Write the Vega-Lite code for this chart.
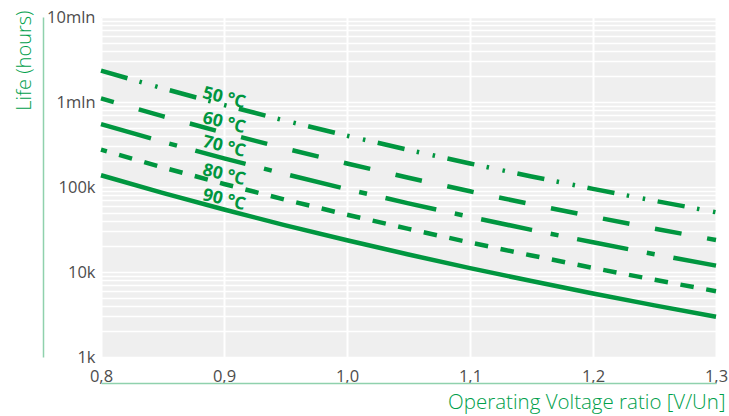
{
  "$schema": "https://vega.github.io/schema/vega-lite/v6.json",
  "width": 615,
  "height": 340,
  "autosize": {"type": "none"},
  "padding": {"left": 101, "top": 17, "right": 13, "bottom": 59},
  "background": "white",
  "config": {"view": {"fill": "#efefef", "stroke": null}, "font": "Open Sans"},
  "datasets": {
    "curves": [
      {"ratio": 0.8, "life": 2339000, "temp": "50"},
      {"ratio": 0.85, "life": 1448000, "temp": "50"},
      {"ratio": 0.9, "life": 923100, "temp": "50"},
      {"ratio": 0.95, "life": 601800, "temp": "50"},
      {"ratio": 1.0, "life": 401200, "temp": "50"},
      {"ratio": 1.05, "life": 273000, "temp": "50"},
      {"ratio": 1.1, "life": 189000, "temp": "50"},
      {"ratio": 1.15, "life": 133000, "temp": "50"},
      {"ratio": 1.2, "life": 95030, "temp": "50"},
      {"ratio": 1.25, "life": 68850, "temp": "50"},
      {"ratio": 1.3, "life": 50490, "temp": "50"},
      {"ratio": 0.8, "life": 1100800, "temp": "60"},
      {"ratio": 0.85, "life": 681600, "temp": "60"},
      {"ratio": 0.9, "life": 434400, "temp": "60"},
      {"ratio": 0.95, "life": 283200, "temp": "60"},
      {"ratio": 1.0, "life": 188800, "temp": "60"},
      {"ratio": 1.05, "life": 128500, "temp": "60"},
      {"ratio": 1.1, "life": 88960, "temp": "60"},
      {"ratio": 1.15, "life": 62600, "temp": "60"},
      {"ratio": 1.2, "life": 44720, "temp": "60"},
      {"ratio": 1.25, "life": 32400, "temp": "60"},
      {"ratio": 1.3, "life": 23760, "temp": "60"},
      {"ratio": 0.8, "life": 550400, "temp": "70"},
      {"ratio": 0.85, "life": 340800, "temp": "70"},
      {"ratio": 0.9, "life": 217100, "temp": "70"},
      {"ratio": 0.95, "life": 141600, "temp": "70"},
      {"ratio": 1.0, "life": 94400, "temp": "70"},
      {"ratio": 1.05, "life": 64240, "temp": "70"},
      {"ratio": 1.1, "life": 44480, "temp": "70"},
      {"ratio": 1.15, "life": 31300, "temp": "70"},
      {"ratio": 1.2, "life": 22360, "temp": "70"},
      {"ratio": 1.25, "life": 16200, "temp": "70"},
      {"ratio": 1.3, "life": 11880, "temp": "70"},
      {"ratio": 0.8, "life": 275200, "temp": "80"},
      {"ratio": 0.85, "life": 170400, "temp": "80"},
      {"ratio": 0.9, "life": 108600, "temp": "80"},
      {"ratio": 0.95, "life": 70800, "temp": "80"},
      {"ratio": 1.0, "life": 47200, "temp": "80"},
      {"ratio": 1.05, "life": 32120, "temp": "80"},
      {"ratio": 1.1, "life": 22240, "temp": "80"},
      {"ratio": 1.15, "life": 15650, "temp": "80"},
      {"ratio": 1.2, "life": 11180, "temp": "80"},
      {"ratio": 1.25, "life": 8100, "temp": "80"},
      {"ratio": 1.3, "life": 5940, "temp": "80"},
      {"ratio": 0.8, "life": 137600, "temp": "90"},
      {"ratio": 0.85, "life": 85200, "temp": "90"},
      {"ratio": 0.9, "life": 54300, "temp": "90"},
      {"ratio": 0.95, "life": 35400, "temp": "90"},
      {"ratio": 1.0, "life": 23600, "temp": "90"},
      {"ratio": 1.05, "life": 16060, "temp": "90"},
      {"ratio": 1.1, "life": 11120, "temp": "90"},
      {"ratio": 1.15, "life": 7825, "temp": "90"},
      {"ratio": 1.2, "life": 5590, "temp": "90"},
      {"ratio": 1.25, "life": 4050, "temp": "90"},
      {"ratio": 1.3, "life": 2970, "temp": "90"}
    ],
    "labels": [
      {"ratio": 0.9, "life": 1110000, "text": "50 °C"},
      {"ratio": 0.9, "life": 566000, "text": "60 °C"},
      {"ratio": 0.9, "life": 296000, "text": "70 °C"},
      {"ratio": 0.9, "life": 138000, "text": "80 °C"},
      {"ratio": 0.9, "life": 70300, "text": "90 °C"}
    ]
  },
  "layer": [
    {
      "data": {"name": "curves"},
      "transform": [{"filter": "datum.temp == '90'"}],
      "mark": {"type": "line", "strokeWidth": 4.5, "color": "#00963f", "strokeCap": "butt"},
      "encoding": {
        "x": {
          "field": "ratio", "type": "quantitative",
          "scale": {"domain": [0.8, 1.3], "nice": false, "zero": false},
          "axis": {
            "values": [0.8, 0.9, 1.0, 1.1, 1.2, 1.3],
            "format": ".1f",
            "labelExpr": "replace(datum.label, '.', ',')",
            "offset": 26,
            "domainColor": "#8fd1ad", "domainWidth": 1.5,
            "ticks": false, "tickSize": 0,
            "labelPadding": -15, "labelFontSize": 16.5, "labelColor": "#4d4d4d",
            "labelFlush": false, "labelOverlap": false,
            "grid": true, "gridColor": "white", "gridWidth": 2,
            "title": "Operating Voltage ratio [V/Un]",
            "titleColor": "#00a04b", "titleFontSize": 20.5, "titleFontWeight": 300,
            "titleAnchor": "end", "titleAlign": "right", "titleBaseline": "alphabetic",
            "titleX": 624, "titleY": 25
          }
        },
        "y": {
          "field": "life", "type": "quantitative",
          "scale": {"type": "log", "domain": [1000, 10000000], "nice": false},
          "axis": {
            "values": [1000, 2000, 3000, 4000, 5000, 6000, 7000, 8000, 9000, 10000, 20000, 30000, 40000, 50000, 60000, 70000, 80000, 90000, 100000, 200000, 300000, 400000, 500000, 600000, 700000, 800000, 900000, 1000000, 2000000, 3000000, 4000000, 5000000, 6000000, 7000000, 8000000, 9000000, 10000000],
            "labelExpr": "datum.value == 10000000 ? '10mln' : datum.value == 1000000 ? '1mln' : datum.value == 100000 ? '100k' : datum.value == 10000 ? '10k' : datum.value == 1000 ? '1k' : ''",
            "offset": 58,
            "domainColor": "#8fd1ad", "domainWidth": 1.5,
            "ticks": false, "tickSize": 0,
            "labelPadding": -52, "labelFontSize": 16.5, "labelColor": "#4d4d4d",
            "labelFlush": false, "labelOverlap": false, "labelBound": false,
            "grid": true, "gridColor": "white", "gridWidth": 1.5,
            "title": "Life (hours)",
            "titleColor": "#00a04b", "titleFontSize": 20, "titleFontWeight": 300,
            "titleAngle": -90, "titleAnchor": "end", "titleAlign": "right", "titleBaseline": "middle",
            "titleX": -19, "titleY": -7
          }
        }
      }
    },
    {
      "data": {"name": "curves"},
      "transform": [{"filter": "datum.temp == '80'"}],
      "mark": {"type": "line", "strokeWidth": 4.5, "color": "#00963f", "strokeCap": "butt", "strokeDash": [13.5, 12.7], "strokeDashOffset": 7.4},
      "encoding": {"x": {"field": "ratio", "type": "quantitative"}, "y": {"field": "life", "type": "quantitative"}}
    },
    {
      "data": {"name": "curves"},
      "transform": [{"filter": "datum.temp == '70'"}],
      "mark": {"type": "line", "strokeWidth": 4.5, "color": "#00963f", "strokeCap": "butt", "strokeDash": [52, 19, 8, 19], "strokeDashOffset": 0},
      "encoding": {"x": {"field": "ratio", "type": "quantitative"}, "y": {"field": "life", "type": "quantitative"}}
    },
    {
      "data": {"name": "curves"},
      "transform": [{"filter": "datum.temp == '60'"}],
      "mark": {"type": "line", "strokeWidth": 4.5, "color": "#00963f", "strokeCap": "butt", "strokeDash": [27, 26], "strokeDashOffset": 13.7},
      "encoding": {"x": {"field": "ratio", "type": "quantitative"}, "y": {"field": "life", "type": "quantitative"}}
    },
    {
      "data": {"name": "curves"},
      "transform": [{"filter": "datum.temp == '50'"}],
      "mark": {"type": "line", "strokeWidth": 4.5, "color": "#00963f", "strokeCap": "butt", "strokeDash": [27.5, 12.5, 2.5, 13.8, 2.5, 12.7], "strokeDashOffset": 0},
      "encoding": {"x": {"field": "ratio", "type": "quantitative"}, "y": {"field": "life", "type": "quantitative"}}
    },
    {
      "data": {"name": "labels"},
      "mark": {"type": "text", "fontSize": 17.5, "fontWeight": "bold", "color": "#00963f", "angle": 14, "align": "center", "baseline": "middle"},
      "encoding": {
        "x": {"field": "ratio", "type": "quantitative"},
        "y": {"field": "life", "type": "quantitative"},
        "text": {"field": "text"}
      }
    }
  ]
}
